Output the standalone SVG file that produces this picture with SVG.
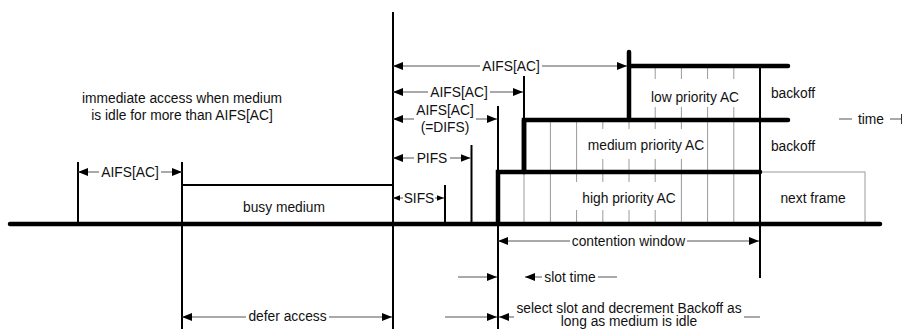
<svg xmlns="http://www.w3.org/2000/svg" width="903" height="329" viewBox="0 0 903 329">
<style>
text{font-family:"Liberation Sans",Arial,sans-serif;font-size:13.8px;fill:#111;text-anchor:middle}
.thick{stroke:#000;stroke-width:4.5;stroke-linecap:round;fill:none}
.v{stroke:#000;stroke-width:2;fill:none}
.grid{stroke:#9a9a9a;stroke-width:1;fill:none}
.arr{stroke:#555;stroke-width:1;fill:none}
.bg{fill:#fff}
</style>
<defs>
<marker id="ah" viewBox="0 0 10 8" refX="10" refY="4" markerWidth="10" markerHeight="8" markerUnits="userSpaceOnUse" orient="auto-start-reverse">
<path d="M0,0 L10,4 L0,8 z" fill="#000"/>
</marker>
<marker id="ahs" viewBox="0 0 10 8" refX="10" refY="4" markerWidth="7" markerHeight="7" markerUnits="userSpaceOnUse" orient="auto-start-reverse">
<path d="M0,0 L10,4 L0,8 z" fill="#000"/>
</marker>
</defs>

<g id="slot-grid">
<line class="grid" x1="524" y1="172" x2="524" y2="224"/>
<line class="grid" x1="550.4" y1="120" x2="550.4" y2="224"/>
<line class="grid" x1="576.6" y1="120" x2="576.6" y2="224"/>
<line class="grid" x1="602.8" y1="120" x2="602.8" y2="224"/>
<line class="grid" x1="629" y1="120" x2="629" y2="224"/>
<line class="grid" x1="655.2" y1="66" x2="655.2" y2="224"/>
<line class="grid" x1="681.4" y1="66" x2="681.4" y2="224"/>
<line class="grid" x1="707.6" y1="66" x2="707.6" y2="224"/>
<line class="grid" x1="733.8" y1="66" x2="733.8" y2="224"/>
<rect class="grid" x="760" y="172" width="105" height="52"/>
</g>

<g id="labels-bg">
<rect class="bg" x="645" y="79" width="100" height="28"/>
<rect class="bg" x="582" y="129" width="122" height="30"/>
<rect class="bg" x="576" y="182" width="103" height="28"/>
</g>

<g id="timeline">
<line class="thick" x1="10" y1="224" x2="880" y2="224"/>
<line class="v" x1="78" y1="162" x2="78" y2="224"/>
<line class="v" x1="182" y1="162" x2="182" y2="329"/>
<line class="v" x1="182" y1="185" x2="393" y2="185"/>
<line class="v" x1="393" y1="12" x2="393" y2="329"/>
<line class="v" x1="445" y1="185" x2="445" y2="224"/>
<line class="v" x1="471.5" y1="145" x2="471.5" y2="224"/>
<line class="v" x1="498" y1="106" x2="498" y2="329"/>
<line class="v" x1="524" y1="76" x2="524" y2="120"/>
<line class="v" x1="760" y1="66" x2="760" y2="278"/>
</g>

<g id="access-categories">
<path class="thick" d="M498,224 V172 H760" stroke-linecap="butt"/>
<path class="thick" d="M524,172 V120 H788"/>
<line class="thick" x1="524" y1="172" x2="524" y2="120" stroke-linecap="butt"/>
<path class="thick" d="M629,120 V52"/>
<line class="thick" x1="629" y1="66" x2="788" y2="66"/>
</g>

<g id="arrow-label-bg">
<rect class="bg" x="480" y="59" width="62" height="15"/>
<rect class="bg" x="428" y="85" width="62" height="15"/>
<rect class="bg" x="414" y="103" width="62" height="32"/>
<rect class="bg" x="414" y="151" width="36" height="15"/>
<rect class="bg" x="403" y="191" width="32" height="15"/>
<rect class="bg" x="99" y="165" width="62" height="15"/>
<rect class="bg" x="246" y="310" width="83" height="15"/>
<rect class="bg" x="570" y="234" width="117" height="15"/>
<rect class="bg" x="542" y="270" width="56" height="15"/>
<rect class="bg" x="514" y="300" width="230" height="29"/>
<rect class="bg" x="852" y="112" width="38" height="15"/>
</g>

<g id="connectors">
<line class="arr" x1="393" y1="66" x2="480" y2="66" marker-start="url(#ah)"/>
<line class="arr" x1="542" y1="66" x2="627" y2="66" marker-end="url(#ah)"/>
<line class="arr" x1="393" y1="92" x2="428" y2="92" marker-start="url(#ah)"/>
<line class="arr" x1="490" y1="92" x2="523" y2="92" marker-end="url(#ah)"/>
<line class="arr" x1="393" y1="119" x2="414" y2="119" marker-start="url(#ah)"/>
<line class="arr" x1="476" y1="119" x2="497" y2="119" marker-end="url(#ah)"/>
<line class="arr" x1="393" y1="158" x2="414" y2="158" marker-start="url(#ah)"/>
<line class="arr" x1="450" y1="158" x2="470.5" y2="158" marker-end="url(#ah)"/>
<line class="arr" x1="393" y1="198" x2="403" y2="198" marker-start="url(#ahs)"/>
<line class="arr" x1="435" y1="198" x2="444" y2="198" marker-end="url(#ahs)"/>
<line class="arr" x1="78" y1="172" x2="99" y2="172" marker-start="url(#ah)"/>
<line class="arr" x1="161" y1="172" x2="182" y2="172" marker-end="url(#ah)"/>
<line class="arr" x1="182" y1="317" x2="246" y2="317" marker-start="url(#ah)"/>
<line class="arr" x1="329" y1="317" x2="392" y2="317" marker-end="url(#ah)"/>
<line class="arr" x1="498" y1="241" x2="570" y2="241" marker-start="url(#ah)"/>
<line class="arr" x1="687" y1="241" x2="759" y2="241" marker-end="url(#ah)"/>
<line class="arr" x1="525" y1="277" x2="542" y2="277" marker-start="url(#ah)"/>
<line class="arr" x1="598" y1="277" x2="617" y2="277"/>
<line class="arr" x1="458" y1="277" x2="497" y2="277" marker-end="url(#ah)"/>
<line class="arr" x1="445" y1="317" x2="497" y2="317" marker-end="url(#ah)"/>
<line class="arr" x1="499" y1="317" x2="514" y2="317" marker-start="url(#ah)"/>
<line class="arr" x1="744" y1="317" x2="760" y2="317"/>
<line class="arr" x1="839" y1="119" x2="852" y2="119"/>
<line class="arr" x1="890" y1="119" x2="901" y2="119"/>
<line stroke="#333" stroke-width="1" x1="901.5" y1="114" x2="901.5" y2="124"/>
</g>

<g id="arrow-labels">
<text x="511" y="71">AIFS[AC]</text>
<text x="459" y="97">AIFS[AC]</text>
<text x="445" y="115">AIFS[AC]</text>
<text x="445" y="132">(=DIFS)</text>
<text x="432" y="163">PIFS</text>
<text x="419" y="203">SIFS</text>
<text x="130" y="177">AIFS[AC]</text>
<text x="287.5" y="321">defer access</text>
<text x="628.5" y="246">contention window</text>
<text x="570" y="281.5">slot time</text>
<text x="629" y="312.5">select slot and decrement Backoff as</text>
<text x="629" y="326">long as medium is idle</text>
<text x="871" y="124">time</text>
</g>

<g id="region-labels">
<text x="182" y="103">immediate access when medium</text>
<text x="182" y="120">is idle for more than AIFS[AC]</text>
<text x="284" y="212">busy medium</text>
<text x="695" y="101.5">low priority AC</text>
<text x="646" y="150">medium priority AC</text>
<text x="629" y="202.5">high priority AC</text>
<text x="793" y="97.5">backoff</text>
<text x="793" y="151">backoff</text>
<text x="813" y="202.5">next frame</text>
</g>
</svg>
